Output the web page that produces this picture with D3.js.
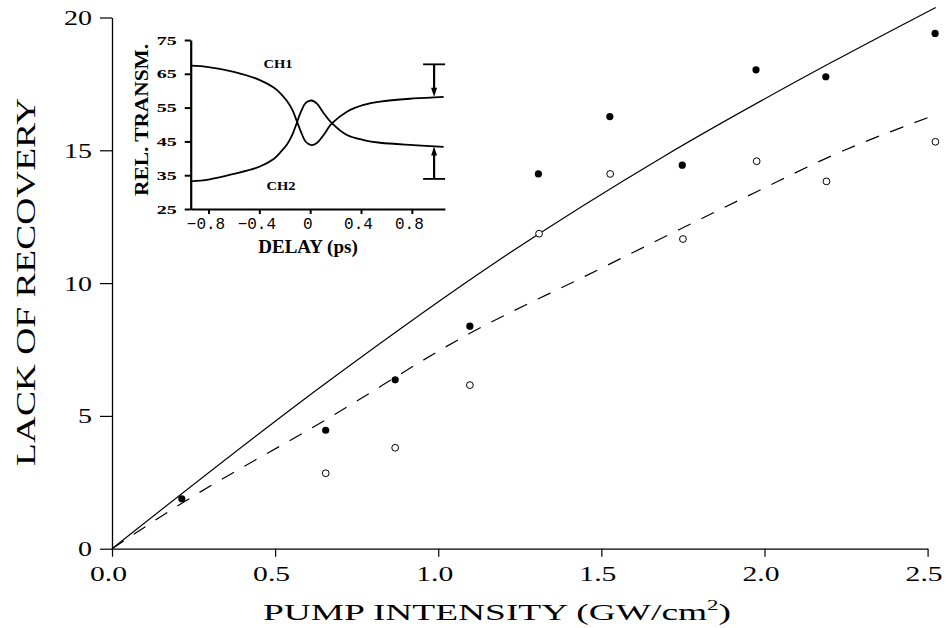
<!DOCTYPE html>
<html>
<head>
<meta charset="utf-8">
<script src="https://cdn.jsdelivr.net/npm/d3@7"></script>
<style>
  body { margin: 0; background: #fff; }
  svg { display: block; }
</style>
</head>
<body>
<div class="chartContainer"></div>
<script>
// Main plot: lack of recovery vs pump intensity
var ch1Intensity = [0.214, 0.655, 0.868, 1.097, 1.307, 1.526, 1.748, 1.974, 2.188, 2.523];
var ch1Lack = [1.88, 4.46, 6.36, 8.38, 14.11, 16.27, 14.44, 18.03, 17.77, 19.4];
var ch2Intensity = [0.655, 0.868, 1.097, 1.309, 1.527, 1.75, 1.976, 2.19, 2.524];
var ch2Lack = [2.84, 3.8, 6.16, 11.86, 14.11, 11.66, 14.59, 13.83, 15.32];

// theory curves
var solidX = [0, 0.655, 1.19, 1.69, 2.21, 2.525];
var solidY = [0, 6.23, 10.9, 14.76, 18.34, 20.38];
var dashX = [0, 0.214, 0.655, 1.097, 1.457, 1.976, 2.211, 2.523];
var dashY = [0, 1.71, 4.85, 8.11, 10.3, 13.44, 14.82, 16.33];

var xTicks = [0, 0.5, 1.0, 1.5, 2.0, 2.5];
var yTicks = [0, 5, 10, 15, 20];

// Inset: relative transmission vs delay
var delay = [-0.94, -0.8, -0.6, -0.4, -0.29, -0.236, -0.184, -0.14, -0.105, -0.07, -0.035, 0.01, 0.055, 0.1, 0.171, 0.289, 0.42, 0.55, 0.813, 1.05];
var ch1Trans = [67.4, 67.0, 65.6, 63.2, 61.0, 59.3, 57.0, 54.3, 51.0, 47.6, 44.9, 43.9, 44.6, 46.6, 50.3, 53.8, 55.8, 56.8, 57.7, 58.2];
var ch2Trans = [33.2, 33.7, 35.4, 37.5, 39.7, 41.7, 44.0, 47.0, 50.5, 54.0, 56.4, 57.1, 56.1, 53.7, 50.4, 46.9, 45.4, 44.6, 43.9, 43.4];

var barDelay = 0.975;
var barCap = [67.8, 33.9];
var barTip = [58.2, 43.5];

var insetXTicks = [-0.8, -0.4, 0, 0.4, 0.8];
var insetYTicks = [25, 35, 45, 55, 65, 75];

document.addEventListener("DOMContentLoaded", function () {
  const W = 946;
  const H = 628;
  const SERIF = "'Liberation Serif', 'Times New Roman', serif";

  const svg = d3
    .select(".chartContainer")
    .append("svg")
    .attr("width", W)
    .attr("height", H);

  // Scales
  var x = d3.scaleLinear().domain([0, 2.5]).range([112, 927.6]);
  var y = d3.scaleLinear().domain([0, 20]).range([548.7, 17.5]);

  // width of a number label: digits wider than the dot
  var numLen = (s) => s.split("").reduce((a, c) => a + (c === "." ? 9 : 14), 0);

  // Axes
  var xAxis = svg
    .append("g")
    .attr("transform", "translate(0," + y(0) + ")")
    .call(
      d3.axisBottom(x).tickValues(xTicks).tickSize(8).tickPadding(9).tickSizeOuter(0).tickFormat(d3.format(".1f"))
    );
  var yAxis = svg
    .append("g")
    .attr("transform", "translate(" + x(0) + ",0)")
    .call(d3.axisLeft(y).tickValues(yTicks).tickSize(12).tickPadding(8).tickSizeOuter(0));

  [xAxis, yAxis].forEach((g) => {
    g.select(".domain").attr("stroke", "#000").attr("stroke-width", 1.3);
    g.selectAll(".tick line").attr("stroke", "#000").attr("stroke-width", 1.2);
    g.selectAll(".tick text")
      .attr("fill", "#000")
      .style("font-family", SERIF)
      .style("font-size", "22px")
      .attr("textLength", function () { return numLen(this.textContent); })
      .attr("lengthAdjust", "spacingAndGlyphs");
  });
  xAxis.selectAll(".tick text").attr("x", -4);

  // Axis titles
  var xTitle = svg
    .append("text")
    .attr("x", 263)
    .attr("y", 620)
    .attr("textLength", 468)
    .attr("lengthAdjust", "spacingAndGlyphs")
    .style("font-family", SERIF)
    .style("font-size", "23px");
  xTitle.append("tspan").text("PUMP INTENSITY (GW/cm");
  xTitle.append("tspan").attr("dy", -10).style("font-size", "14px").text("2");
  xTitle.append("tspan").attr("dy", 10).text(")");

  svg
    .append("text")
    .attr("transform", "translate(35,282) rotate(-90)")
    .attr("text-anchor", "middle")
    .attr("textLength", 368)
    .attr("lengthAdjust", "spacingAndGlyphs")
    .style("font-family", SERIF)
    .style("font-size", "28px")
    .text("LACK OF RECOVERY");

  // Theory lines
  var solidLine = d3
    .line()
    .x((i) => x(solidX[i]))
    .y((i) => y(solidY[i]))
    .curve(d3.curveMonotoneX);
  var dashLine = d3
    .line()
    .x((i) => x(dashX[i]))
    .y((i) => y(dashY[i]))
    .curve(d3.curveMonotoneX);

  svg
    .append("path")
    .attr("d", solidLine(d3.range(solidX.length)))
    .attr("fill", "none")
    .attr("stroke", "#000")
    .attr("stroke-width", 1.2);
  svg
    .append("path")
    .attr("d", dashLine(d3.range(dashX.length)))
    .attr("fill", "none")
    .attr("stroke", "#000")
    .attr("stroke-width", 1.2)
    .attr("stroke-dasharray", "14,12");

  // Data points
  svg
    .append("g")
    .selectAll("circle")
    .data(d3.range(ch2Intensity.length))
    .enter()
    .append("circle")
    .attr("cx", (i) => x(ch2Intensity[i]))
    .attr("cy", (i) => y(ch2Lack[i]))
    .attr("r", 3.4)
    .attr("fill", "#fff")
    .attr("stroke", "#000")
    .attr("stroke-width", 1);
  svg
    .append("g")
    .selectAll("circle")
    .data(d3.range(ch1Intensity.length))
    .enter()
    .append("circle")
    .attr("cx", (i) => x(ch1Intensity[i]))
    .attr("cy", (i) => y(ch1Lack[i]))
    .attr("r", 3.6)
    .attr("fill", "#000");

  // ---- Inset ----
  var ix = d3.scaleLinear().domain([-0.94, 1.06]).range([190.7, 444.9]);
  var iy = d3.scaleLinear().domain([25, 75]).range([209, 40]);
  var inset = svg.append("g").attr("class", "inset");

  var ixAxis = inset
    .append("g")
    .attr("transform", "translate(0," + iy(25) + ")")
    .call(
      d3.axisBottom(ix).tickValues(insetXTicks).tickSize(5).tickPadding(4).tickSizeOuter(0)
        .tickFormat((d) => (d === 0 ? "0" : d3.format(".1f")(d)))
    );
  var iyAxis = inset
    .append("g")
    .attr("transform", "translate(" + ix(-0.94) + ",0)")
    .call(d3.axisLeft(iy).tickValues(insetYTicks).tickSize(6).tickPadding(8).tickSizeOuter(0));

  [ixAxis, iyAxis].forEach((g) => {
    g.select(".domain").attr("stroke", "#000").attr("stroke-width", 2.2);
    g.selectAll(".tick line").attr("stroke", "#000").attr("stroke-width", 2);
    g.selectAll(".tick text").attr("fill", "#000");
  });
  ixAxis.selectAll(".tick text")
    .attr("x", -3)
    .style("font-family", "'Liberation Mono', monospace")
    .style("font-size", "16px");
  iyAxis.selectAll(".tick text")
    .style("font-family", SERIF)
    .style("font-weight", "bold")
    .style("font-size", "13px")
    .attr("textLength", 20)
    .attr("lengthAdjust", "spacingAndGlyphs");

  var transLine = (vals) =>
    d3
      .line()
      .x((i) => ix(delay[i]))
      .y((i) => iy(vals[i]))
      .curve(d3.curveCatmullRom.alpha(0.5))(d3.range(delay.length));

  [ch1Trans, ch2Trans].forEach((vals) => {
    inset
      .append("path")
      .attr("d", transLine(vals))
      .attr("fill", "none")
      .attr("stroke", "#000")
      .attr("stroke-width", 1.8);
  });

  // lack-of-recovery bars with arrows
  var bx = ix(barDelay);
  barCap.forEach((v, i) => {
    var y0 = iy(v);
    var y1 = iy(barTip[i]);
    var dir = y1 > y0 ? 1 : -1;
    inset
      .append("line")
      .attr("x1", bx).attr("x2", bx)
      .attr("y1", y0).attr("y2", y1 - dir * 6)
      .attr("stroke", "#000")
      .attr("stroke-width", 2.2);
    inset
      .append("line")
      .attr("x1", bx - 11).attr("x2", bx + 11)
      .attr("y1", y0).attr("y2", y0)
      .attr("stroke", "#000")
      .attr("stroke-width", 1.8);
    inset
      .append("path")
      .attr("d", "M" + (bx - 3) + "," + (y1 - dir * 9) + "L" + (bx + 3) + "," + (y1 - dir * 9) + "L" + bx + "," + y1 + "Z")
      .attr("fill", "#000");
  });

  // inset labels
  inset
    .append("text")
    .attr("x", 308)
    .attr("y", 253)
    .attr("text-anchor", "middle")
    .style("font-family", SERIF)
    .style("font-weight", "bold")
    .style("font-size", "19px")
    .text("DELAY (ps)");
  inset
    .append("text")
    .attr("transform", "translate(148,120) rotate(-90)")
    .attr("text-anchor", "middle")
    .attr("textLength", 152)
    .attr("lengthAdjust", "spacingAndGlyphs")
    .style("font-family", SERIF)
    .style("font-weight", "bold")
    .style("font-size", "19px")
    .text("REL. TRANSM.");
  [["CH1", 278, 68], ["CH2", 281, 190]].forEach((c) => {
    inset
      .append("text")
      .attr("x", c[1])
      .attr("y", c[2])
      .attr("text-anchor", "middle")
      .attr("textLength", 29)
      .attr("lengthAdjust", "spacingAndGlyphs")
      .style("font-family", SERIF)
      .style("font-weight", "bold")
      .style("font-size", "13px")
      .text(c[0]);
  });
});
</script>
</body>
</html>
